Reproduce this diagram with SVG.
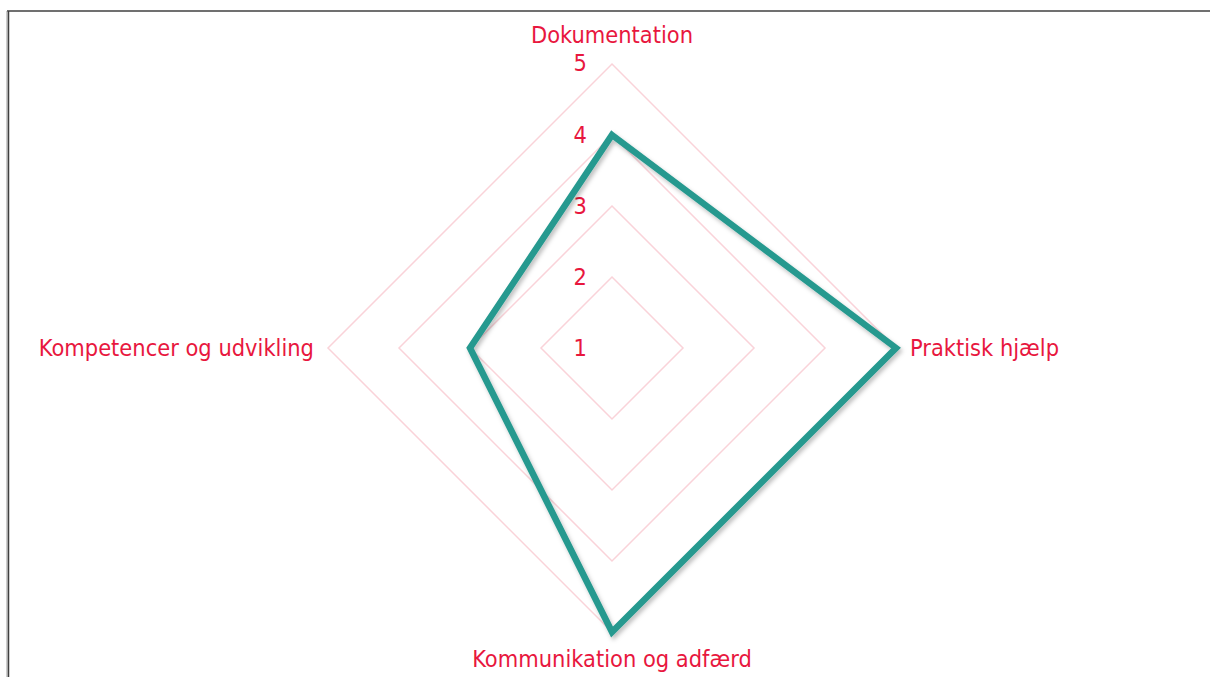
<svg xmlns="http://www.w3.org/2000/svg" width="1210" height="677" viewBox="0 0 1210 677">
  <style>
    .lbl { font-family: "DejaVu Sans Condensed", "DejaVu Sans", sans-serif; font-size: 23.4px; fill: #E8173E; }
    .ring { fill: none; stroke: #FAD3D9; stroke-width: 1.5; }
    .series { fill: none; stroke: #26998F; stroke-width: 6.5; stroke-linejoin: miter; }
  </style>
  <defs>
    <filter id="shadow" x="-10%" y="-10%" width="120%" height="120%">
      <feDropShadow dx="2" dy="3" stdDeviation="2" flood-color="#000" flood-opacity="0.25"/>
    </filter>
  </defs>
  <rect width="1210" height="677" fill="#fff"/>
  <!-- frame -->
  <g id="frame">
    <line x1="7" y1="11" x2="1210" y2="11" stroke="#404040" stroke-width="1.5"/>
    <line x1="7" y1="11" x2="7" y2="677" stroke="#9a9a9a" stroke-width="1"/>
    <line x1="8.5" y1="11" x2="8.5" y2="677" stroke="#404040" stroke-width="1.5"/>
  </g>
  <!-- grid rings, centre (612,348), step 71 -->
  <g id="grid">
    <polygon class="ring" points="612,277 683,348 612,419 541,348"/>
    <polygon class="ring" points="612,206 754,348 612,490 470,348"/>
    <polygon class="ring" points="612,135 825,348 612,561 399,348"/>
    <polygon class="ring" points="612,64 896,348 612,632 328,348"/>
  </g>
  <g id="scale" class="lbl" text-anchor="end">
    <text x="587" y="356">1</text>
    <text x="587" y="285">2</text>
    <text x="587" y="214">3</text>
    <text x="587" y="143">4</text>
    <text x="587" y="71">5</text>
  </g>
  <g id="connectors">
    <polygon class="series" filter="url(#shadow)" points="612,135 896,348 612,632 470,348"/>
  </g>
  <g id="axis-dokumentation"><text class="lbl" x="612" y="43" text-anchor="middle">Dokumentation</text></g>
  <g id="axis-praktisk"><text class="lbl" x="910" y="356">Praktisk hjælp</text></g>
  <g id="axis-kommunikation"><text class="lbl" x="612" y="667" text-anchor="middle">Kommunikation og adfærd</text></g>
  <g id="axis-kompetencer"><text class="lbl" x="314" y="356" text-anchor="end">Kompetencer og udvikling</text></g>
</svg>
